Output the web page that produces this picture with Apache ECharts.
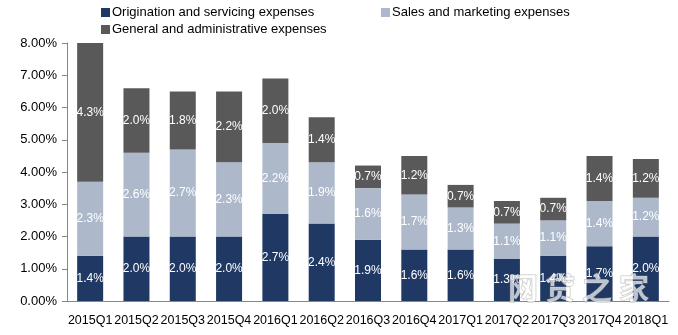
<!DOCTYPE html>
<html>
<head>
<meta charset="utf-8">
<script src="https://cdn.jsdelivr.net/npm/echarts@6/dist/echarts.min.js"></script>
<style>
  html, body { margin: 0; padding: 0; background: #fff; }
  #chart { width: 678px; height: 335px; }
</style>
</head>
<body>
<div id="chart"></div>
<script>
// Quarterly expense ratios (% of loan volume)
const quarters = ['2015Q1','2015Q2','2015Q3','2015Q4','2016Q1','2016Q2','2016Q3','2016Q4','2017Q1','2017Q2','2017Q3','2017Q4','2018Q1'];
const originationServicing = [1.4, 2.0, 2.0, 2.0, 2.7, 2.4, 1.9, 1.6, 1.6, 1.3, 1.4, 1.7, 2.0];
const salesMarketing       = [2.3, 2.6, 2.7, 2.3, 2.2, 1.9, 1.6, 1.7, 1.3, 1.1, 1.1, 1.4, 1.2];
const generalAdmin         = [4.3, 2.0, 1.8, 2.2, 2.0, 1.4, 0.7, 1.2, 0.7, 0.7, 0.7, 1.4, 1.2];
const yTicks = { min: 0, max: 8, interval: 1 };
const watermarkChars = ['网', '贷', '之', '家'];

const FONT = '"Liberation Sans", Arial, sans-serif';
const names = ['Origination and servicing expenses', 'Sales and marketing expenses', 'General and administrative expenses'];
const colors = ['#203864', '#ADB9CA', '#595959'];
const values = [originationServicing, salesMarketing, generalAdmin];

const chart = echarts.init(document.getElementById('chart'), null, { renderer: 'canvas' });

const legendBase = {
  orient: 'horizontal', itemWidth: 9, itemHeight: 9, itemGap: 0,
  icon: 'rect', padding: 0,
  textStyle: { fontFamily: FONT, fontSize: 13, color: '#000', padding: [0, 0, 0, -3] }
};

// Site watermark in the lower right corner, one glyph per element
const watermark = watermarkChars.map((ch, i) => ({
  type: 'text', x: 508 + i * 37, y: 273, z: 100,
  style: {
    text: ch, fontFamily: '"Noto Sans CJK SC", sans-serif',
    fontSize: 30, fontWeight: 'bold',
    fill: 'rgba(255,255,255,0.7)', stroke: 'rgba(140,140,140,0.55)', lineWidth: 1
  }
}));

chart.setOption({
  animation: false,
  color: colors,
  legend: [
    Object.assign({}, legendBase, { left: 101, top: 6, data: [names[0]] }),
    Object.assign({}, legendBase, { left: 381, top: 6, data: [names[1]] }),
    Object.assign({}, legendBase, { left: 101, top: 23, data: [names[2]] })
  ],
  grid: { left: 67, right: 9, top: 43, bottom: 34, containLabel: false },
  xAxis: {
    type: 'category',
    data: quarters,
    axisLine: { lineStyle: { color: '#868686', width: 1 } },
    axisTick: { show: false },
    axisLabel: { interval: 0, fontFamily: FONT, fontSize: 12.5, color: '#000', margin: 13 }
  },
  yAxis: {
    type: 'value',
    min: yTicks.min, max: yTicks.max, interval: yTicks.interval,
    splitLine: { show: false },
    axisLine: { show: true, lineStyle: { color: '#868686', width: 1 } },
    axisTick: { show: true, length: 5, lineStyle: { color: '#868686' } },
    axisLabel: {
      fontFamily: FONT, fontSize: 13, color: '#000', margin: 10,
      formatter: v => v.toFixed(2) + '%'
    }
  },
  series: names.map((n, i) => ({
    name: n,
    type: 'bar',
    stack: 'total',
    barWidth: 26,
    data: values[i],
    itemStyle: { color: colors[i] },
    label: {
      show: true, position: 'inside', color: '#fff',
      fontFamily: FONT, fontSize: 12,
      formatter: p => p.value.toFixed(1) + '%'
    }
  })),
  graphic: watermark
});
</script>
</body>
</html>
